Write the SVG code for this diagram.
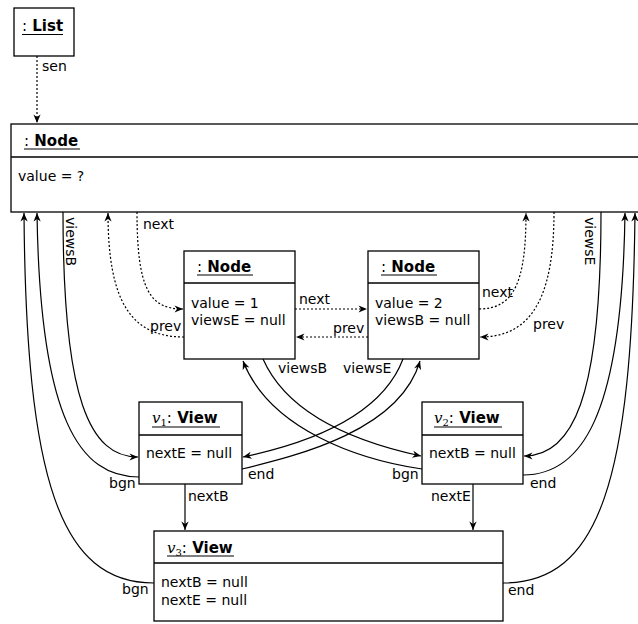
<svg xmlns="http://www.w3.org/2000/svg" width="638" height="624" viewBox="0 0 638 624">
<style>
.box{fill:#fff;stroke:#000;stroke-width:1.3}
.div{stroke:#000;stroke-width:1.3}
.ul{stroke:#000;stroke-width:1}
.t{font-family:"DejaVu Sans",sans-serif;font-size:14px;fill:#000}
.ti{font-family:"DejaVu Sans",sans-serif;font-size:15px;font-weight:bold;fill:#000}
.reg{font-weight:normal}
.m{font-family:"DejaVu Serif","Liberation Serif",serif;font-style:italic;font-weight:normal}
.s{font-family:"DejaVu Serif","Liberation Serif",serif;font-weight:normal;font-size:10px}
.c{fill:none;stroke:#000;stroke-width:1.2}
.d{fill:none;stroke:#000;stroke-width:1.2;stroke-dasharray:2,2}
</style>
<defs>
<marker id="a" viewBox="-10 -5 11 10" refX="0" refY="0" markerWidth="11" markerHeight="10" markerUnits="userSpaceOnUse" orient="auto">
<path d="M0,0 L-8.5,-3.6 L-6,0 L-8.5,3.6 Z" fill="#000"/>
</marker>
</defs>

<g id="list">
<rect class="box" x="14" y="8" width="60" height="48"/>
<text class="ti" x="22" y="31"><tspan class="reg">:</tspan> List</text>
<line class="ul" x1="22" y1="34.5" x2="63" y2="34.5"/>
</g>

<g id="node0">
<rect class="box" x="11" y="124" width="640" height="88"/>
<line class="div" x1="11" y1="157" x2="651" y2="157"/>
<text class="ti" x="24" y="146"><tspan class="reg">:</tspan> Node</text>
<line class="ul" x1="24" y1="149" x2="80" y2="149"/>
<text class="t" x="18" y="181">value = ?</text>
</g>

<g id="node1">
<rect class="box" x="184" y="251" width="111" height="108"/>
<line class="div" x1="184" y1="283" x2="295" y2="283"/>
<text class="ti" x="197" y="272"><tspan class="reg">:</tspan> Node</text>
<line class="ul" x1="197" y1="275" x2="253" y2="275"/>
<text class="t" x="191" y="308">value = 1</text>
<text class="t" x="191" y="325">viewsE = null</text>
</g>

<g id="node2">
<rect class="box" x="368" y="251" width="111" height="108"/>
<line class="div" x1="368" y1="283" x2="479" y2="283"/>
<text class="ti" x="381" y="272"><tspan class="reg">:</tspan> Node</text>
<line class="ul" x1="381" y1="275" x2="437" y2="275"/>
<text class="t" x="375" y="308">value = 2</text>
<text class="t" x="375" y="325">viewsB = null</text>
</g>

<g id="v1">
<rect class="box" x="139" y="402" width="103" height="82"/>
<line class="div" x1="139" y1="435" x2="242" y2="435"/>
<text class="ti" x="152" y="423"><tspan class="m">v</tspan><tspan class="s" dy="3">1</tspan><tspan class="reg" dy="-3">:</tspan> View</text>
<line class="ul" x1="152" y1="427" x2="220" y2="427"/>
<text class="t" x="146" y="458">nextE = null</text>
</g>

<g id="v2">
<rect class="box" x="422" y="402" width="101" height="82"/>
<line class="div" x1="422" y1="435" x2="523" y2="435"/>
<text class="ti" x="434" y="423"><tspan class="m">v</tspan><tspan class="s" dy="3">2</tspan><tspan class="reg" dy="-3">:</tspan> View</text>
<line class="ul" x1="434" y1="427" x2="502" y2="427"/>
<text class="t" x="429" y="458">nextB = null</text>
</g>

<g id="v3">
<rect class="box" x="154" y="531" width="349" height="90"/>
<line class="div" x1="154" y1="563" x2="503" y2="563"/>
<text class="ti" x="167" y="553"><tspan class="m">v</tspan><tspan class="s" dy="3">3</tspan><tspan class="reg" dy="-3">:</tspan> View</text>
<line class="ul" x1="167" y1="556" x2="234" y2="556"/>
<text class="t" x="161" y="587">nextB = null</text>
<text class="t" x="161" y="605">nextE = null</text>
</g>

<g id="connectors">
<!-- sen -->
<path class="d" d="M37,56 L37,123" marker-end="url(#a)"/>
<text class="t" x="42" y="71">sen</text>
<!-- next/prev dotted -->
<path class="d" d="M137,212 C137,290 150,309 183,309" marker-end="url(#a)"/>
<text class="t" x="143" y="229">next</text>
<path class="d" d="M184,337 C130,337 108,300 108,213" marker-end="url(#a)"/>
<text class="t" x="150" y="331">prev</text>
<path class="d" d="M295,309 L367,309" marker-end="url(#a)"/>
<text class="t" x="299" y="304">next</text>
<path class="d" d="M368,337 L296,337" marker-end="url(#a)"/>
<text class="t" x="333" y="333">prev</text>
<path class="d" d="M479,309 C515,309 526,280 526,213" marker-end="url(#a)"/>
<text class="t" x="482" y="297">next</text>
<path class="d" d="M554,212 C554,300 530,337 480,337" marker-end="url(#a)"/>
<text class="t" x="533" y="329">prev</text>
<!-- left side -->
<path class="c" d="M63,212 C63,400 90,457 138,457" marker-end="url(#a)"/>
<text class="t" transform="translate(66,217) rotate(90)">viewsB</text>
<path class="c" d="M139,477 C80,477 40,420 37,213" marker-end="url(#a)"/>
<text class="t" x="109" y="488">bgn</text>
<path class="c" d="M154,583 C60,583 26,480 24,213" marker-end="url(#a)"/>
<text class="t" x="122" y="594">bgn</text>
<!-- right side -->
<path class="c" d="M601,212 C601,400 572,456 524,456" marker-end="url(#a)"/>
<text class="t" transform="translate(585,217) rotate(90)">viewsE</text>
<path class="c" d="M523,475 C580,475 622,420 625,213" marker-end="url(#a)"/>
<text class="t" x="530" y="488">end</text>
<path class="c" d="M503,583 C600,583 632,480 635,213" marker-end="url(#a)"/>
<text class="t" x="508" y="595">end</text>
<!-- crossing -->
<path class="c" d="M263,359 C290,420 370,445 421,456" marker-end="url(#a)"/>
<text class="t" x="278" y="373">viewsB</text>
<path class="c" d="M422,469 C360,460 270,430 243,361" marker-end="url(#a)"/>
<text class="t" x="392" y="479">bgn</text>
<path class="c" d="M403,359 C380,420 300,445 243,457" marker-end="url(#a)"/>
<text class="t" x="343" y="373">viewsE</text>
<path class="c" d="M242,469 C300,455 400,430 420,361" marker-end="url(#a)"/>
<text class="t" x="248" y="479">end</text>
<!-- nextB / nextE -->
<path class="c" d="M185,484 L185,530" marker-end="url(#a)"/>
<text class="t" x="188" y="501">nextB</text>
<path class="c" d="M473,484 L473,530" marker-end="url(#a)"/>
<text class="t" x="431" y="501">nextE</text>
</g>
</svg>
